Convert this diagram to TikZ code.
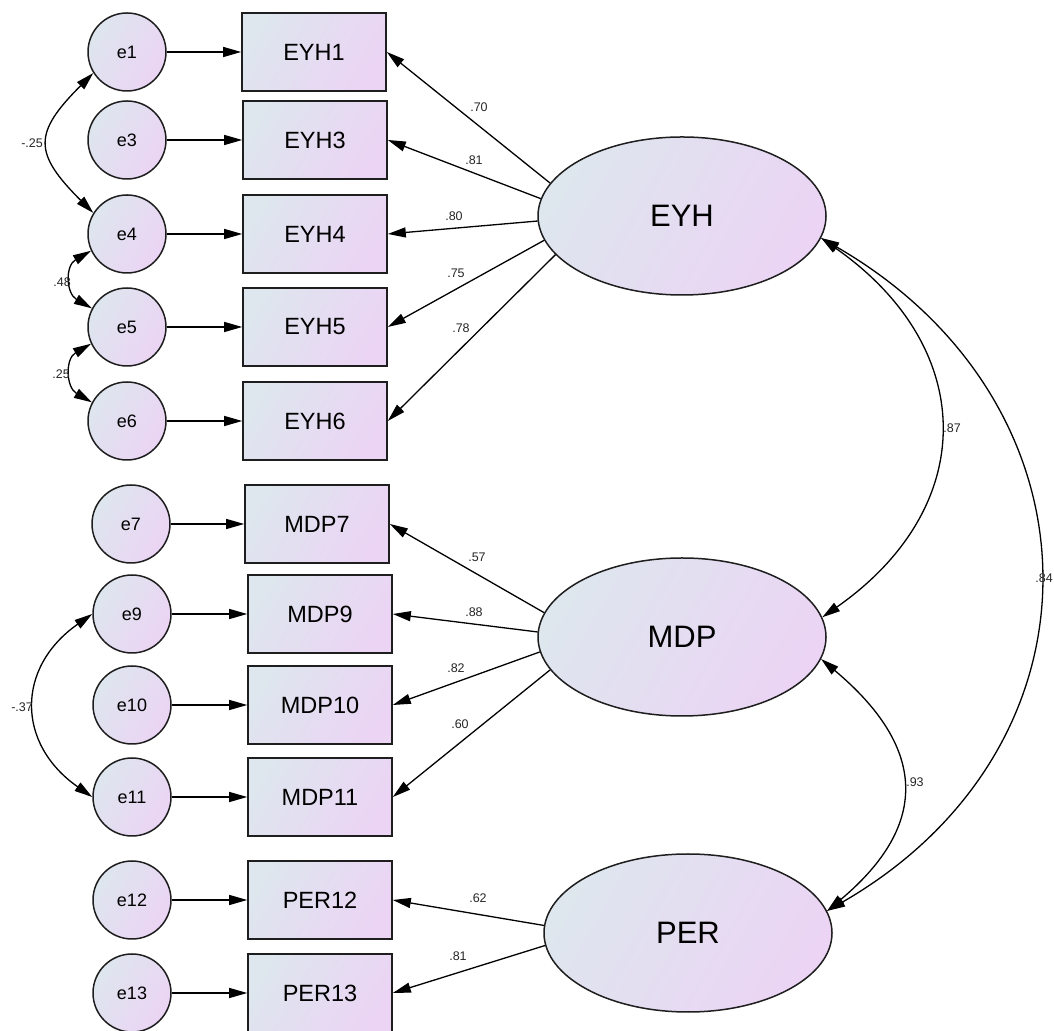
\documentclass[tikz,border=0pt]{standalone}
\usepackage{fontspec}
\setmainfont{Liberation Sans}
\usetikzlibrary{arrows.meta,shapes.geometric}
\definecolor{cA}{RGB}{222,230,238}
\definecolor{cB}{RGB}{235,212,244}
\definecolor{edge}{RGB}{30,30,30}
\tikzset{
  shade2/.style={top color=cA, bottom color=cB, shading angle=60},
  err/.style={circle, draw=edge, line width=1.5pt, minimum size=78pt, inner sep=0pt,
    shade2, font=\fontsize{18}{18}\selectfont},
  obs/.style={rectangle, draw=edge, line width=1.6pt, minimum width=144pt, minimum height=78pt,
    inner sep=0pt, shade2, font=\fontsize{23.5}{24}\selectfont},
  lat/.style={ellipse, draw=edge, line width=1.5pt, minimum width=288pt, minimum height=158pt,
    inner sep=0pt, shade2, font=\fontsize{31}{31}\selectfont},
  ldg/.style={line width=1.3pt, -{Triangle[length=18pt,width=10pt]}},
  cov/.style={line width=1.3pt, {Triangle[length=18pt,width=10pt]}-{Triangle[length=18pt,width=10pt]}},
  coef/.style={font=\fontsize{12.5}{13}\selectfont, inner sep=0pt, text=black!85},
}
\begin{document}
\begin{tikzpicture}[x=1pt,y=1pt]
\useasboundingbox (0,0) rectangle (1054,1030);
\clip (0,0) rectangle (1054,1030);
% error terms
\node[err] (e1)  at (127,978) {e1};
\node[err] (e3)  at (127,890) {e3};
\node[err] (e4)  at (127,796) {e4};
\node[err] (e5)  at (127,703) {e5};
\node[err] (e6)  at (127,609) {e6};
\node[err] (e7)  at (131,506) {e7};
\node[err] (e9)  at (132,416) {e9};
\node[err] (e10) at (132,325) {e10};
\node[err] (e11) at (132,233) {e11};
\node[err] (e12) at (132,130) {e12};
\node[err] (e13) at (132,37)  {e13};
% observed
\node[obs] (EYH1) at (314,978) {EYH1};
\node[obs] (EYH3) at (315,890) {EYH3};
\node[obs] (EYH4) at (315,796) {EYH4};
\node[obs] (EYH5) at (315,703) {EYH5};
\node[obs] (EYH6) at (315,609) {EYH6};
\node[obs] (MDP7) at (317,506) {MDP7};
\node[obs] (MDP9) at (320,416) {MDP9};
\node[obs] (MDP10) at (320,325) {MDP10};
\node[obs] (MDP11) at (320,233) {MDP11};
\node[obs] (PER12) at (320,130) {PER12};
\node[obs] (PER13) at (320,37) {PER13};
% latent
\node[lat] (EYH) at (682,814) {EYH};
\node[lat] (MDP) at (682,393) {MDP};
\node[lat] (PER) at (688,97) {PER};
% error -> item
\foreach \a/\b in {e1/EYH1,e3/EYH3,e4/EYH4,e5/EYH5,e6/EYH6,e7/MDP7,e9/MDP9,e10/MDP10,e11/MDP11,e12/PER12,e13/PER13}
  \draw[ldg] (\a.east) -- (\b.west);
% loadings
\draw[ldg] (EYH.166) -- (EYH1.east);
\draw[ldg] (EYH.173) -- (EYH3.east);
\draw[ldg] (EYH.182) -- (EYH4.east);
\draw[ldg] (EYH.190) -- (EYH5.east);
\draw[ldg] (EYH.197) -- (EYH6.east);
\draw[ldg] (MDP.170) -- (MDP7.east);
\draw[ldg] (MDP.178) -- (MDP9.east);
\draw[ldg] (MDP.186) -- (MDP10.east);
\draw[ldg] (MDP.194) -- (MDP11.east);
\draw[ldg] (PER.177) -- (PER12.east);
\draw[ldg] (PER.185) -- (PER13.east);
% loading labels
\node[coef] (l1) at (479,923) {.70};
\node[coef] (l3) at (474,870) {.81};
\node[coef] (l4) at (454,814) {.80};
\node[coef] (l5) at (456,757) {.75};
\node[coef] (l6) at (461,702) {.78};
\node[coef] (l7) at (477,473) {.57};
\node[coef] (l9) at (474,418) {.88};
\node[coef] (l10) at (456,362) {.82};
\node[coef] (l11) at (460,306) {.60};
\node[coef] (l12) at (478,132) {.62};
\node[coef] (l13) at (458,74) {.81};
% latent covariances
\draw[cov] (EYH.-9) to[out=-35,in=35,distance=192] (MDP.8);
\draw[cov] (EYH.-9) to[out=-30,in=30,distance=331] (PER.9);
\draw[cov] (MDP.-9) to[out=-40,in=40,distance=136] (PER.9);
\node[coef] (c87) at (952,602) {.87};
\node[coef,anchor=east] (c84) at (1053,452) {.84};
\node[coef] (c93) at (915,248) {.93};
% error covariances
\draw[cov] (e1.212) to[out=225,in=135,distance=85] (e4.148);
\draw[cov] (e4.205) to[out=210,in=150,distance=30] (e5.152);
\draw[cov] (e5.205) to[out=210,in=150,distance=30] (e6.152);
\draw[cov] (e9.180) to[out=215,in=145,distance=93] (e11.180);
\node[coef,anchor=east] (c25) at (43,887) {-.25};
\node[coef,anchor=east] (c48) at (71,748) {.48};
\node[coef,anchor=east] (c25b) at (70,656) {.25};
\node[coef,anchor=east] (c37) at (33,323) {-.37};
\end{tikzpicture}
\end{document}
